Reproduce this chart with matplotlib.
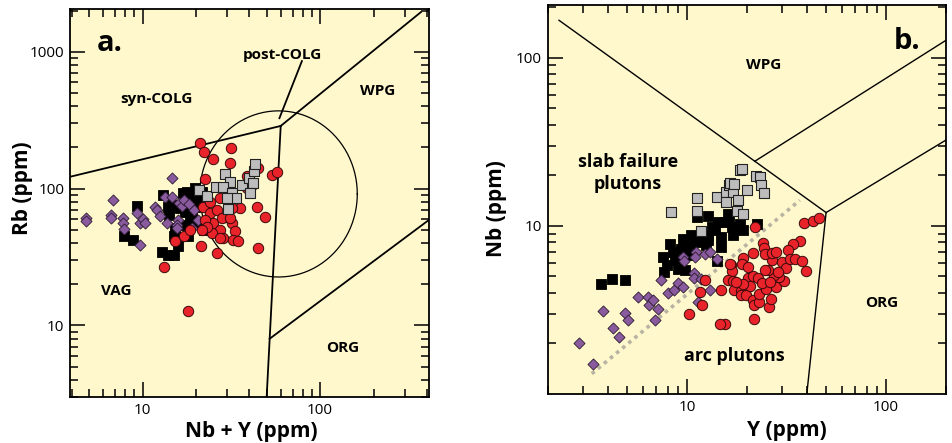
import numpy as np
import matplotlib
matplotlib.use("Agg")
import matplotlib.pyplot as plt
from matplotlib.ticker import LogLocator, FixedLocator, FixedFormatter, NullFormatter

plt.rcParams['font.family'] = ['Open Sans', 'DejaVu Sans']

# ---- panel a: Rb vs Nb+Y ----
a_purple_x = [4.79, 4.79, 6.78, 6.66, 6.66, 7.78, 7.71, 7.81, 9.33, 9.62, 10.0, 10.3, 9.66,
              11.8, 12.1, 12.6, 13.8, 14.7, 13.4, 14.7, 16.0, 16.6, 17.2, 18.2, 19.4, 15.9,
              15.6, 15.7, 19.1, 20.4]
a_purple_y = [61.5, 58.1, 82.7, 64.6, 61.5, 60.8, 55.9, 50.5, 66.1, 55.9, 60.1, 55.9, 38.6,
              73.9, 69.9, 63.6, 55.9, 120, 87.5, 86.5, 78.2, 74.8, 82.7, 77.3, 69.2, 59.2,
              54.3, 51.4, 51.4, 59.2]

a_black_x = [9.33, 7.88, 8.78, 12.9, 13.95, 15.0, 13.95, 13.1, 14.1, 14.6, 15.2, 16.9, 17.7,
             18.5, 19.7, 16.2, 15.2, 15.0, 15.9, 17.3, 18.9, 18.5, 18.1, 16.6, 19.3, 21.0,
             21.5, 23.0, 19.7, 21.5, 22.2]
a_black_y = [75.2, 45.4, 42.3, 34.7, 32.9, 32.5, 73.9, 89.9, 64.3, 76.0, 73.9, 92.5, 95.1,
             87.5, 100.5, 71.9, 51.4, 44.7, 37.8, 68.0, 64.3, 59.2, 44.7, 54.3, 55.9, 82.7,
             55.9, 51.4, 73.9, 95.1, 50.0]

a_red_x = [21.1, 22.3, 25.0, 31.3, 31.1, 22.4, 53.6, 57.0, 44.0, 49.0, 21.3, 26.1, 44.9,
           15.2, 17.1, 22.0, 24.0, 25.0, 27.3, 29.1, 31.8, 33.2, 28.5, 32.5, 34.6, 24.5,
           26.1, 35.4, 31.8, 27.3, 24.0, 27.9, 31.1, 38.6, 41.2, 22.5, 23.0, 27.3, 21.5,
           18.5, 13.2, 18.1, 44.9, 38.6]
a_red_y = [214, 185, 165, 199, 155, 118, 126, 132, 74.0, 62.5, 38.2, 33.8, 36.7,
           41.1, 45.2, 74.0, 66.1, 55.9, 50.0, 62.5, 55.9, 48.6, 43.5, 42.3, 41.1, 47.2,
           69.9, 71.9, 71.9, 85.0, 80.4, 60.8, 60.8, 100.6, 106, 59.2, 52.8, 43.5, 50.0,
           50.0, 26.7, 12.7, 141, 124]

a_gray_x = [20.9, 23.0, 29.2, 31.1, 25.8, 28.5, 31.8, 36.2, 33.6, 39.8, 41.7, 40.3, 42.7,
            43.0, 30.4, 30.0]
a_gray_y = [97.8, 88.4, 127, 112, 103, 102, 93.5, 106, 85.9, 120, 110, 92.5, 134,
            151, 71.1, 85.0]

# field boundaries (Pearce et al. style)
a_syn_vag_x, a_syn_vag_y = [3.9, 60], [122, 287]
a_wpg_syn_x, a_wpg_syn_y = [60, 370], [287, 1950]
a_vag_wpg_x, a_vag_wpg_y = [60, 50], [287, 3]
a_org_wpg_x, a_org_wpg_y = [52, 410], [8, 59]
a_post_x, a_post_y = [59, 79], [327, 855]
a_circle_x = [21, 162]
a_circle_y = [22.6, 370]

# ---- panel b: Nb vs Y ----
b_purple_x = [2.88, 3.36, 3.80, 4.27, 4.54, 4.91, 5.04, 5.66, 6.36, 6.48, 6.74, 7.14, 6.95,
              7.42, 8.08, 8.57, 9.01, 9.55, 9.55, 9.62, 10.8, 10.9, 11.1, 11.8, 12.4, 13.1,
              11.0, 13.1, 11.4, 14.2]
b_purple_y = [2.0, 1.50, 3.12, 2.48, 2.18, 3.03, 2.77, 3.78, 3.78, 3.40, 3.64, 3.19, 2.75,
              4.79, 3.99, 4.18, 4.58, 4.32, 6.54, 6.17, 5.27, 4.90, 7.0, 4.81, 6.84, 7.0,
              6.54, 4.18, 3.53, 6.39]

b_black_x = [3.70, 4.19, 4.89, 7.71, 7.96, 7.57, 8.18, 8.50, 8.67, 9.36, 9.55, 9.92, 10.5,
             10.3, 9.73, 9.01, 11.4, 11.8, 12.8, 12.5, 13.8, 13.3, 14.3, 14.9, 14.9, 14.2,
             15.5, 16.3, 16.9, 17.1, 12.8, 11.3, 10.6, 16.1, 19.1, 22.4, 18.4, 12.8]
b_black_y = [4.54, 4.82, 4.75, 5.33, 5.83, 6.54, 7.85, 7.0, 6.25, 7.33, 8.41, 7.67, 8.80,
             6.68, 5.44, 5.57, 8.41, 8.03, 8.80, 7.67, 9.42, 9.86, 10.6, 8.60, 7.50, 6.17,
             10.6, 11.1, 9.86, 8.80, 11.5, 11.3, 7.85, 11.8, 9.42, 10.3, 10.3, 8.22]

b_gray_x = [8.34, 11.3, 11.2, 11.8, 14.1, 15.8, 16.2, 17.1, 18.1, 15.8, 17.9, 19.1, 16.5,
            17.2, 18.4, 19.0, 20.1, 22.2, 23.2, 23.5, 24.4]
b_gray_y = [12.1, 14.7, 12.2, 9.29, 14.9, 15.9, 17.6, 15.9, 14.3, 13.9, 12.2, 11.8, 17.9,
            17.7, 21.6, 21.9, 16.4, 19.7, 19.6, 17.6, 15.6]

b_red_x = [10.3, 11.6, 11.9, 12.3, 21.9, 38.9, 42.9, 45.8, 37.0, 34.2, 32.3, 24.0, 24.4,
           21.5, 19.2, 19.0, 16.6, 16.9, 16.0, 17.1, 14.8, 17.3, 18.6, 18.8, 19.9, 21.5,
           21.8, 23.1, 25.9, 26.4, 23.1, 25.1, 28.0, 30.8, 29.1, 27.4, 25.6, 26.6, 24.6,
           26.9, 28.0, 29.9, 31.4, 32.9, 34.9, 38.0, 39.7, 20.3, 21.5, 22.8, 23.7, 20.7,
           19.2, 17.7, 20.3, 24.6, 26.1, 28.8, 21.8, 15.5, 14.7, 16.4]
b_red_y = [2.98, 4.05, 3.40, 4.75, 9.86, 10.4, 10.7, 11.2, 8.15, 7.78, 7.16, 7.92, 7.40,
           6.90, 6.45, 5.91, 5.89, 5.40, 4.75, 4.69, 4.18, 4.14, 4.10, 3.90, 3.87, 3.61,
           3.37, 3.53, 3.30, 3.69, 3.95, 4.24, 4.30, 4.71, 4.97, 5.08, 5.45, 6.25, 6.84,
           6.90, 7.0, 6.11, 5.62, 6.39, 6.31, 6.19, 5.40, 4.93, 5.01, 4.93, 4.58, 4.38,
           4.50, 4.64, 5.70, 5.45, 4.64, 5.32, 2.78, 2.62, 2.60, 5.97]

b_lines = [([2.28, 50], [167, 12]),
           ([21.9, 200], [24.2, 127]),
           ([50, 200], [12, 32.4]),
           ([50, 40], [12, 1])]
b_trend_x, b_trend_y = [3.33, 36.9], [1.32, 14.2]

bg = '#fff8cc'
red = '#e8232a'
purple = '#8a5a9e'
gray = '#bdbdbd'


def style_axis(ax, xlim, ylim, xmajor, ymajor):
    ax.set_facecolor(bg)
    ax.set_xscale('log')
    ax.set_yscale('log')
    ax.set_xlim(xlim)
    ax.set_ylim(ylim)
    ax.xaxis.set_major_locator(FixedLocator(xmajor))
    ax.xaxis.set_major_formatter(FixedFormatter([str(v) for v in xmajor]))
    ax.yaxis.set_major_locator(FixedLocator(ymajor))
    ax.yaxis.set_major_formatter(FixedFormatter([str(v) for v in ymajor]))
    ax.xaxis.set_minor_locator(LogLocator(base=10, subs=np.arange(2, 10)))
    ax.yaxis.set_minor_locator(LogLocator(base=10, subs=np.arange(2, 10)))
    ax.xaxis.set_minor_formatter(NullFormatter())
    ax.yaxis.set_minor_formatter(NullFormatter())
    ax.tick_params(which='both', direction='in', top=True, right=True, width=1.1,
                   labelsize=11, pad=4)
    ax.tick_params(which='major', length=10.5)
    ax.tick_params(which='minor', length=5.5)
    for s in ax.spines.values():
        s.set_linewidth(1.3)


def plot_groups(ax, black, gray_, purple_, red_):
    ax.scatter(*black, marker='s', s=48, c='black', edgecolors='black', linewidths=0.6, zorder=3)
    ax.scatter(*purple_, marker='D', s=32, c=purple, edgecolors='#2a1a30', linewidths=0.6, zorder=4)
    ax.scatter(*red_, marker='o', s=56, c=red, edgecolors='#3a0a0a', linewidths=0.7, zorder=5)
    ax.scatter(*gray_, marker='s', s=48, c=gray, edgecolors='#222222', linewidths=0.8, zorder=6)


def set_labels(ax, xl, yl, xpos, ypos):
    ax.set_xlabel(xl, fontsize=15, fontweight='bold', va='center')
    ax.set_ylabel(yl, fontsize=15, fontweight='bold', va='center')
    ax.xaxis.set_label_coords(*xpos)
    ax.yaxis.set_label_coords(*ypos)


fig = plt.figure(figsize=(9.52, 4.43), dpi=100)
ax1 = fig.add_axes([0.0735, 0.1038, 0.377, 0.875])
ax2 = fig.add_axes([0.5753, 0.1106, 0.4184, 0.8774])

# panel a
style_axis(ax1, (3.9, 410), (3.0, 2040), [10, 100], [10, 100, 1000])
for xs, ys in [(a_syn_vag_x, a_syn_vag_y), (a_wpg_syn_x, a_wpg_syn_y),
               (a_vag_wpg_x, a_vag_wpg_y), (a_org_wpg_x, a_org_wpg_y), (a_post_x, a_post_y)]:
    ax1.plot(xs, ys, color='black', lw=1.3, zorder=2)
t = np.linspace(0, 2 * np.pi, 300)
lcx, lcy = np.log10(a_circle_x), np.log10(a_circle_y)
ax1.plot(10 ** (lcx.mean() + (lcx[1] - lcx[0]) / 2 * np.cos(t)),
         10 ** (lcy.mean() + (lcy[1] - lcy[0]) / 2 * np.sin(t)), color='black', lw=0.9, zorder=2)
plot_groups(ax1, (a_black_x, a_black_y), (a_gray_x, a_gray_y),
            (a_purple_x, a_purple_y), (a_red_x, a_red_y))

lab = dict(ha='center', va='center', fontweight='bold', transform=ax1.transAxes)
ax1.text(0.111, 0.913, 'a.', fontsize=21, **lab)
ax1.text(0.593, 0.882, 'post-COLG', fontsize=11, **lab)
ax1.text(0.242, 0.769, 'syn-COLG', fontsize=11, **lab)
ax1.text(0.858, 0.789, 'WPG', fontsize=11, **lab)
ax1.text(0.128, 0.274, 'VAG', fontsize=11, **lab)
ax1.text(0.760, 0.127, 'ORG', fontsize=11, **lab)
set_labels(ax1, 'Nb + Y (ppm)', 'Rb (ppm)', (0.506, -0.089), (-0.131, 0.54))

# panel b
style_axis(ax2, (2, 200), (1, 205), [10, 100], [10, 100])
for xs, ys in b_lines:
    ax2.plot(xs, ys, color='black', lw=1.0, zorder=2)
ax2.plot(b_trend_x, b_trend_y, color='#b8b3a3', lw=2.6, ls=(0, (1, 1.2)), zorder=2)
plot_groups(ax2, (b_black_x, b_black_y), (b_gray_x, b_gray_y),
            (b_purple_x, b_purple_y), (b_red_x, b_red_y))

lab['transform'] = ax2.transAxes
ax2.text(0.901, 0.906, 'b.', fontsize=21, **lab)
ax2.text(0.541, 0.846, 'WPG', fontsize=11, **lab)
ax2.text(0.202, 0.568, 'slab failure\nplutons', fontsize=13, linespacing=1.3, **lab)
ax2.text(0.839, 0.233, 'ORG', fontsize=11, **lab)
ax2.text(0.468, 0.098, 'arc plutons', fontsize=13, **lab)
set_labels(ax2, 'Y (ppm)', 'Nb (ppm)', (0.60, -0.094), (-0.128, 0.478))

fig.savefig('out.png', dpi=100, facecolor='white')
